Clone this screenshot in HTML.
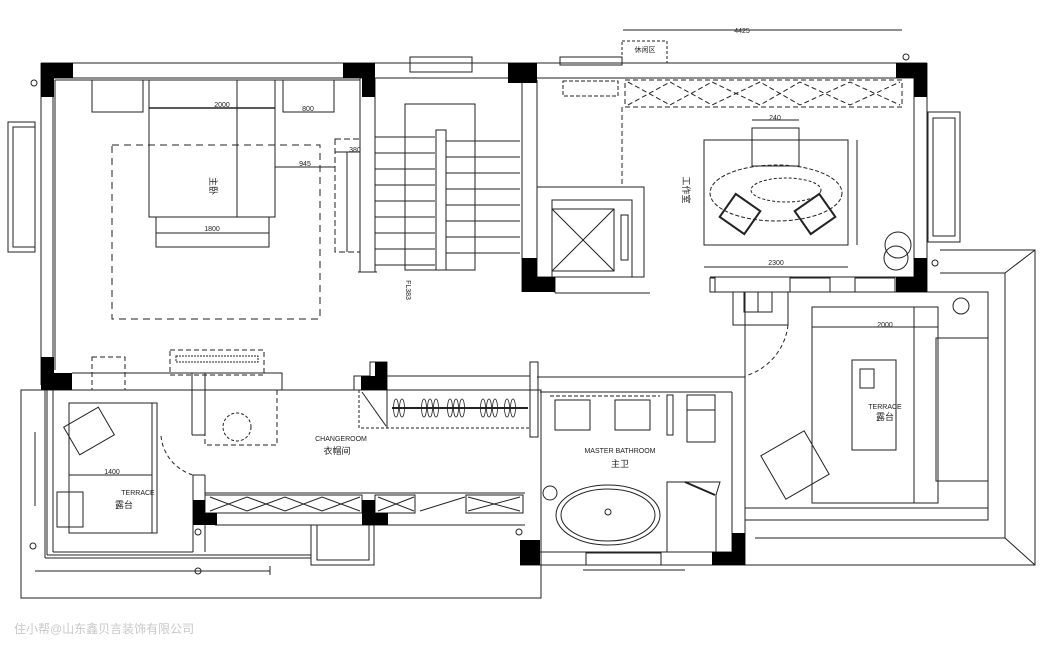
<!DOCTYPE html>
<html><head><meta charset="utf-8"><style>
html,body{margin:0;padding:0;background:#fff;}
svg{display:block;font-family:"Liberation Sans","Noto Sans CJK SC",sans-serif;}
</style></head><body>
<svg width="1060" height="652" viewBox="0 0 1060 652" xmlns="http://www.w3.org/2000/svg">
<g fill="none" stroke="#222" stroke-width="1">
<line x1="623" y1="30" x2="902" y2="30"/>
<rect x="622" y="41" width="45" height="22" stroke-dasharray="3,2"/>
<line x1="41" y1="63" x2="927" y2="63"/>
<line x1="53" y1="78" x2="914" y2="78"/>
<line x1="55" y1="80" x2="360" y2="80"/>
<rect x="410" y="57" width="62" height="15"/>
<rect x="560" y="57" width="62" height="8"/>
<line x1="41" y1="63" x2="41" y2="385"/>
<line x1="53" y1="78" x2="53" y2="370"/>
<line x1="55" y1="80" x2="55" y2="370"/>
<rect x="8" y="122" width="27" height="130"/>
<rect x="13" y="127" width="22" height="120"/>
<line x1="360" y1="78" x2="360" y2="272"/>
<line x1="375" y1="78" x2="375" y2="272"/>
<line x1="358" y1="272" x2="377" y2="272"/>
<rect x="92" y="80" width="51" height="32"/>
<rect x="283" y="80" width="51" height="32"/>
<rect x="149" y="80" width="126" height="137"/>
<line x1="149" y1="108" x2="275" y2="108" stroke-width="1.5"/>
<line x1="237" y1="80" x2="237" y2="217"/>
<rect x="156" y="217" width="113" height="30"/>
<line x1="156" y1="233" x2="269" y2="233"/>
<rect x="112" y="145" width="208" height="174" stroke-dasharray="7,5"/>
<line x1="275" y1="167" x2="335" y2="167"/>
<rect x="335" y="139" width="25" height="113" stroke-dasharray="6,3"/>
<line x1="335" y1="152" x2="360" y2="152"/>
<line x1="347" y1="152" x2="347" y2="252"/>
<rect x="405" y="104" width="70" height="166"/>
<rect x="436" y="130" width="10" height="140"/>
<g>
<line x1="375" y1="137" x2="435" y2="137"/><line x1="446" y1="141" x2="520" y2="141"/>
<line x1="375" y1="153" x2="435" y2="153"/><line x1="446" y1="157" x2="520" y2="157"/>
<line x1="375" y1="169" x2="435" y2="169"/><line x1="446" y1="173" x2="520" y2="173"/>
<line x1="375" y1="185" x2="435" y2="185"/><line x1="446" y1="189" x2="520" y2="189"/>
<line x1="375" y1="201" x2="435" y2="201"/><line x1="446" y1="205" x2="520" y2="205"/>
<line x1="375" y1="217" x2="435" y2="217"/><line x1="446" y1="221" x2="520" y2="221"/>
<line x1="375" y1="233" x2="435" y2="233"/><line x1="446" y1="237" x2="520" y2="237"/>
<line x1="375" y1="249" x2="435" y2="249"/><line x1="446" y1="253" x2="520" y2="253"/>
<line x1="375" y1="265" x2="435" y2="265"/>
</g>
<line x1="475" y1="120" x2="475" y2="255"/>
<line x1="522" y1="63" x2="522" y2="292"/>
<line x1="537" y1="80" x2="537" y2="187"/>
<line x1="914" y1="78" x2="914" y2="277"/>
<line x1="927" y1="63" x2="927" y2="292"/>
<rect x="928" y="112" width="32" height="130"/>
<rect x="933" y="118" width="22" height="118"/>
<rect x="625" y="80" width="277" height="27" stroke-dasharray="5,3"/>
<path d="M628 82 L670 105 L712 82 L760 105 L800 82 L850 105 L900 82 M628 105 L670 82 L712 105 L760 82 L800 105 L850 82 L900 105" stroke-dasharray="5,3"/>
<line x1="622" y1="107" x2="622" y2="187" stroke-dasharray="5,3"/>
<rect x="563" y="81" width="55" height="15" stroke-dasharray="4,2"/>
<rect x="704" y="140" width="144" height="105"/>
<rect x="752" y="128" width="47" height="38"/>
<ellipse cx="776" cy="193" rx="66" ry="28" stroke-dasharray="4,2"/>
<ellipse cx="786" cy="190" rx="35" ry="12" stroke-dasharray="3,2"/>
<g stroke-width="2"><rect x="725" y="200" width="30" height="28" transform="rotate(35 740 214)"/><rect x="800" y="200" width="30" height="28" transform="rotate(-35 815 214)"/></g>
<line x1="704" y1="267" x2="848" y2="267"/>
<line x1="857" y1="140" x2="857" y2="245"/>
<line x1="752" y1="120" x2="799" y2="120"/>
<circle cx="898" cy="245" r="13"/><circle cx="896" cy="258" r="12"/>
<rect x="537" y="187" width="107" height="90"/>
<rect x="552" y="200" width="80" height="77"/>
<rect x="552" y="209" width="62" height="62"/>
<line x1="552" y1="209" x2="614" y2="271"/><line x1="614" y1="209" x2="552" y2="271"/>
<rect x="621" y="215" width="7" height="45"/>
<line x1="555" y1="277" x2="555" y2="293"/><line x1="555" y1="293" x2="650" y2="293"/>
<line x1="710" y1="277" x2="927" y2="277"/><line x1="710" y1="292" x2="927" y2="292"/>
<rect x="710" y="278" width="5" height="14"/>
<rect x="790" y="278" width="40" height="14"/><rect x="855" y="278" width="40" height="14"/>
<path d="M733 292 V325 H788 V292"/>
<rect x="744" y="292" width="28" height="20"/><line x1="758" y1="292" x2="758" y2="312"/>
<path d="M788 325 A 60 60 0 0 1 745 376" stroke-dasharray="4,3"/>
<path d="M940 250 H1035 V565 H745"/>
<path d="M940 273 H1005 V538 H755"/>
<line x1="1005" y1="273" x2="1035" y2="250"/><line x1="1005" y1="538" x2="1035" y2="565"/>
<rect x="745" y="292" width="243" height="228"/>
<line x1="745" y1="508" x2="988" y2="508"/>
<rect x="812" y="307" width="126" height="196"/>
<line x1="812" y1="327" x2="938" y2="327"/>
<line x1="914" y1="307" x2="914" y2="503"/>
<rect x="936" y="338" width="52" height="143"/>
<rect x="852" y="360" width="44" height="90"/>
<rect x="860" y="369" width="14" height="19"/>
<circle cx="961" cy="306" r="8"/>
<rect x="770" y="440" width="50" height="50" transform="rotate(-30 795 465)"/>
<line x1="537" y1="377" x2="745" y2="377"/>
<line x1="540" y1="392" x2="732" y2="392"/>
<line x1="732" y1="392" x2="732" y2="552"/>
<line x1="745" y1="377" x2="745" y2="565"/>
<line x1="520" y1="565" x2="745" y2="565"/>
<line x1="540" y1="552" x2="732" y2="552"/>
<rect x="586" y="553" width="75" height="12"/>
<line x1="583" y1="570" x2="685" y2="570"/>
<rect x="555" y="400" width="35" height="30"/><rect x="615" y="400" width="35" height="30"/>
<line x1="550" y1="396" x2="660" y2="396" stroke-dasharray="4,2"/>
<rect x="667" y="395" width="6" height="40"/>
<rect x="687" y="395" width="28" height="15"/><rect x="687" y="410" width="28" height="32"/>
<ellipse cx="608" cy="515" rx="52" ry="30"/><ellipse cx="608" cy="515" rx="47" ry="26"/>
<circle cx="608" cy="512" r="3"/>
<circle cx="550" cy="493" r="7"/>
<path d="M667 552 V482 H720 L716 495 V552"/>
<line x1="685" y1="482" x2="715" y2="495" stroke-width="2"/>
<!-- changeroom wardrobe -->
<line x1="387" y1="376" x2="530" y2="376"/>
<rect x="359" y="390" width="171" height="38" stroke-dasharray="3,2"/>
<line x1="387" y1="390" x2="387" y2="428"/>
<line x1="362" y1="392" x2="386" y2="426"/>
<line x1="392" y1="408" x2="528" y2="408" stroke-width="2"/>
<g stroke-width="0.8">
<ellipse cx="396" cy="408" rx="2.5" ry="9"/><ellipse cx="402" cy="408" rx="2.5" ry="9"/>
<ellipse cx="424" cy="408" rx="2.5" ry="9"/><ellipse cx="430" cy="408" rx="2.5" ry="9"/><ellipse cx="436" cy="408" rx="2.5" ry="9"/>
<ellipse cx="450" cy="408" rx="2.5" ry="9"/><ellipse cx="456" cy="408" rx="2.5" ry="9"/><ellipse cx="462" cy="408" rx="2.5" ry="9"/>
<ellipse cx="483" cy="408" rx="2.5" ry="9"/><ellipse cx="489" cy="408" rx="2.5" ry="9"/><ellipse cx="495" cy="408" rx="2.5" ry="9"/>
<ellipse cx="507" cy="408" rx="2.5" ry="9"/><ellipse cx="513" cy="408" rx="2.5" ry="9"/>
</g>
<rect x="530" y="362" width="8" height="75"/>
<path d="M354 376 H370 V362 H387 V390 H354 Z"/>
<!-- left changeroom walls -->
<line x1="72" y1="373" x2="282" y2="373"/>
<line x1="72" y1="390" x2="192" y2="390"/>
<rect x="205" y="373" width="77" height="17"/>
<line x1="192" y1="373" x2="192" y2="435"/><line x1="205" y1="373" x2="205" y2="435"/>
<line x1="192" y1="435" x2="205" y2="435"/>
<rect x="170" y="350" width="94" height="25" stroke-dasharray="5,3"/>
<rect x="176" y="356" width="82" height="6" stroke-dasharray="2,1"/>
<rect x="92" y="357" width="33" height="33" stroke-dasharray="5,3"/>
<rect x="205" y="390" width="72" height="55" stroke-dasharray="5,3"/>
<circle cx="237" cy="427" r="14" stroke-dasharray="3,2"/>
<path d="M161 436 A 45 45 0 0 0 193 475" stroke-dasharray="4,3"/>
<line x1="193" y1="475" x2="193" y2="552"/><line x1="205" y1="475" x2="205" y2="552"/>
<line x1="193" y1="475" x2="205" y2="475"/>
<line x1="205" y1="493" x2="525" y2="493"/>
<rect x="205" y="495" width="157" height="18"/>
<path d="M210 497 L247 511 L285 497 L322 511 L360 497 M210 511 L247 497 L285 511 L322 497 L360 511"/>
<rect x="375" y="495" width="40" height="18"/><rect x="466" y="495" width="57" height="18"/>
<path d="M378 497 L414 511 M378 511 L414 497 M468 497 L520 511 M468 511 L520 497 M420 511 L465 497"/>
<line x1="215" y1="525" x2="525" y2="525"/>
<rect x="311" y="525" width="63" height="40"/><rect x="317" y="525" width="52" height="35"/>
<rect x="21" y="390" width="520" height="208"/>
<line x1="45" y1="390" x2="45" y2="558"/><line x1="45" y1="558" x2="311" y2="558"/>
<line x1="47" y1="390" x2="47" y2="555"/><line x1="47" y1="555" x2="311" y2="555"/>
<line x1="53" y1="390" x2="53" y2="552"/><line x1="53" y1="552" x2="193" y2="552"/>
<rect x="69" y="403" width="88" height="130"/>
<line x1="152" y1="403" x2="152" y2="533"/>
<line x1="69" y1="475" x2="152" y2="475"/>
<rect x="57" y="492" width="26" height="35"/>
<rect x="69" y="415" width="40" height="32" transform="rotate(-30 89 431)"/>
<line x1="35" y1="432" x2="35" y2="506"/>
<line x1="35" y1="571" x2="270" y2="571"/>
<line x1="270" y1="566" x2="270" y2="575"/>
<circle cx="33" cy="546" r="3"/><circle cx="198" cy="571" r="3"/><circle cx="198" cy="532" r="3"/><circle cx="519" cy="532" r="3"/>
<circle cx="34" cy="83" r="3"/><circle cx="906" cy="57" r="3"/><circle cx="935" cy="263" r="3"/>
</g>
<g fill="#000">
<rect x="41" y="63" width="32" height="15"/><rect x="41" y="63" width="13" height="34"/>
<rect x="343" y="63" width="32" height="15"/><rect x="362" y="63" width="13" height="34"/>
<rect x="508" y="63" width="29" height="20"/>
<rect x="896" y="63" width="31" height="15"/><rect x="914" y="63" width="13" height="34"/>
<rect x="522" y="258" width="15" height="34"/><rect x="522" y="277" width="33" height="15"/>
<rect x="914" y="258" width="13" height="34"/><rect x="896" y="277" width="31" height="15"/>
<rect x="41" y="357" width="13" height="33"/><rect x="41" y="373" width="31" height="17"/>
<rect x="361" y="376" width="26" height="14"/><rect x="375" y="362" width="12" height="20"/>
<rect x="193" y="500" width="12" height="25"/><rect x="193" y="513" width="24" height="12"/>
<rect x="362" y="500" width="13" height="25"/><rect x="362" y="513" width="26" height="12"/>
<rect x="520" y="540" width="20" height="25"/>
<rect x="732" y="533" width="13" height="32"/><rect x="712" y="552" width="33" height="13"/>
</g>
<g fill="#222" font-size="7" text-anchor="middle">
<text x="742" y="33">4425</text>
<text x="222" y="107">2000</text>
<text x="308" y="111">800</text>
<text x="212" y="231">1800</text>
<text x="305" y="166">945</text>
<text x="355" y="152">380</text>
<text x="775" y="120">240</text>
<text x="776" y="265">2300</text>
<text x="885" y="327">2000</text>
<text x="112" y="474">1400</text>
<text x="341" y="441">CHANGEROOM</text>
<text x="620" y="453">MASTER BATHROOM</text>
<text x="138" y="495">TERRACE</text>
<text x="885" y="409">TERRACE</text>
<text font-size="9" x="337" y="454">衣帽间</text>
<text font-size="9" x="620" y="467">主卫</text>
<text font-size="9" x="124" y="508">露台</text>
<text font-size="9" x="885" y="420">露台</text>
<text font-size="9" x="210" y="186" transform="rotate(90 210 186)">主卧</text>
<text font-size="9" x="683" y="190" transform="rotate(90 683 190)">工作室</text>
<text x="406" y="290" transform="rotate(90 406 290)">FL383</text>
<text x="645" y="52">休闲区</text>
</g>
<text x="14" y="633" font-size="12" fill="#c8c8c8">住小帮@山东鑫贝言装饰有限公司</text>
</svg>
</body></html>
